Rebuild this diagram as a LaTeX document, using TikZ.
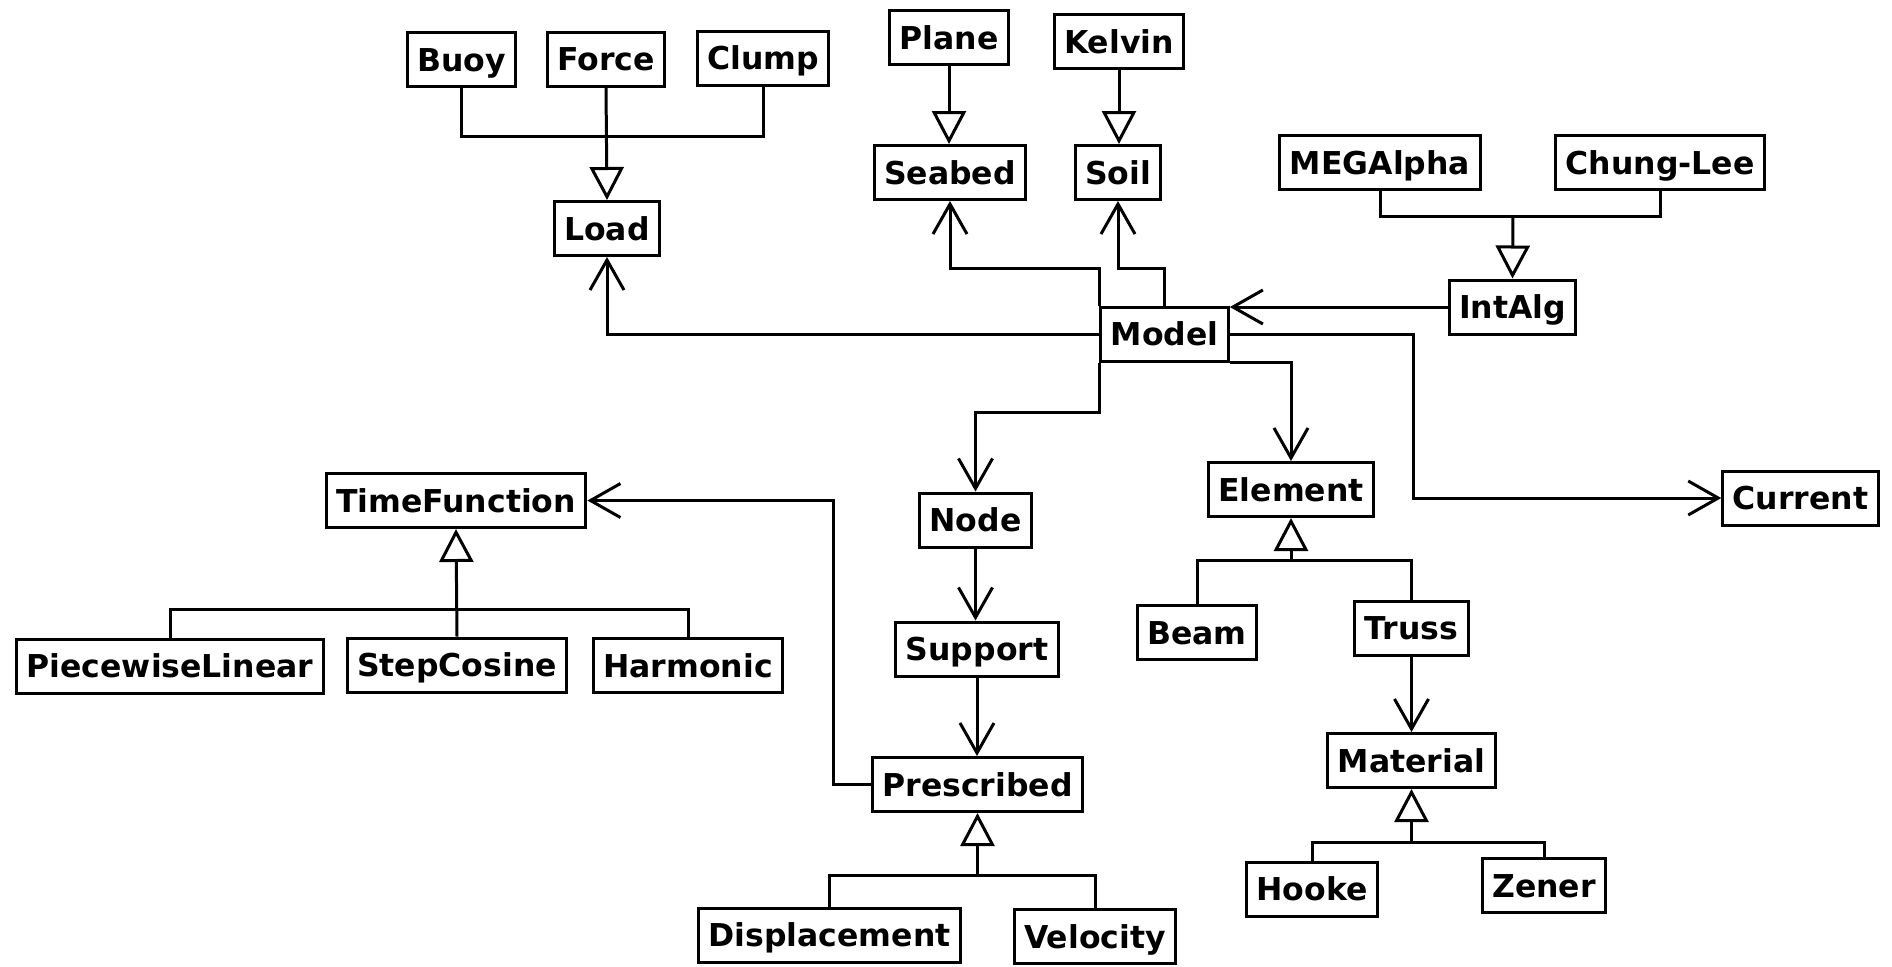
\documentclass[tikz,border=0pt]{standalone}
\usepackage{fontspec}
\setmainfont{DejaVu Sans}
\usetikzlibrary{arrows.meta}
\tikzset{
class/.style={ % Sets the properties for each class box
draw,
line width=1.5pt,
fill=white,
font=\bfseries\fontsize{15.75}{18}\selectfont,
inner xsep=5pt, inner ysep=0pt,
minimum height=27pt,
text height=11.5pt, text depth=0pt},
link/.style={draw, line width=1.5pt}, % Plain connector lines
uses/.style={link, % Association with an open barb
-{Straight Barb[length=15pt, width=17pt, line width=1.5pt]}},
inherit/.style={link, % Generalization with a hollow triangle
-{Triangle[open, length=16.5pt, width=17pt, line width=1.5pt]}}}

\begin{document}
\begin{tikzpicture}[x=0.5pt, y=-0.5pt]
	\useasboundingbox (0,0) rectangle (1892,966);
	\node[class] (buoy) at (461.5,59.5) {Buoy};
	\node[class] (force) at (606,59) {Force};
	\node[class] (clump) at (763,58) {Clump};
	\node[class] (load) at (607,228.5) {Load};
	\node[class] (plane) at (949,37.5) {Plane};
	\node[class] (kelvin) at (1119,41.5) {Kelvin};
	\node[class] (seabed) at (950,172.5) {Seabed};
	\node[class] (soil) at (1118,172.5) {Soil};
	\node[class] (megalpha) at (1380,162.5) {MEGAlpha};
	\node[class] (chunglee) at (1660,162.5) {Chung-Lee};
	\node[class] (intalg) at (1512.5,307) {IntAlg};
	\node[class] (model) at (1164.5,334) {Model};
	\node[class] (timefn) at (456,500.5) {TimeFunction};
	\node[class] (pnode) at (975.5,520) {Node};
	\node[class] (element) at (1291,489.5) {Element};
	\node[class] (current) at (1800.5,498) {Current};
	\node[class] (piecewise) at (170,666) {PiecewiseLinear};
	\node[class] (stepcos) at (457,665) {StepCosine};
	\node[class] (harmonic) at (688,665.5) {Harmonic};
	\node[class] (support) at (977,649) {Support};
	\node[class] (beam) at (1197,632.5) {Beam};
	\node[class] (truss) at (1411.5,628) {Truss};
	\node[class] (material) at (1411.5,760.5) {Material};
	\node[class] (prescribed) at (977.5,784.5) {Prescribed};
	\node[class] (hooke) at (1312,889) {Hooke};
	\node[class] (zener) at (1544,885.5) {Zener};
	\node[class] (displacement) at (829.5,935) {Displacement};
	\node[class] (velocity) at (1095,936.5) {Velocity};
	% joints of the subclass trees
	\coordinate (loadbus) at (607,136);
	\coordinate (algbus) at (1513,216);
	\coordinate (timebus) at (457,609);
	\coordinate (elembus) at (1291,560);
	\coordinate (matbus) at (1411.5,842);
	\coordinate (presbus) at (977.5,875);
	% generalizations
	\draw[link] (buoy.south) |- (loadbus) -| (clump.south);
	\draw[inherit] (force.south) -- (load.north);
	\draw[inherit] (plane.south) -- (plane.south |- seabed.north);
	\draw[inherit] (kelvin.south) -- (kelvin.south |- soil.north);
	\draw[link] (megalpha.south) |- (algbus) -| (chunglee.south);
	\draw[inherit] (algbus) -- (intalg.north);
	\draw[link] (piecewise.north) |- (timebus) -| (harmonic.north);
	\draw[inherit] (stepcos.north) -- (timefn.south);
	\draw[link] (beam.north) |- (elembus) -| (truss.north);
	\draw[inherit] (elembus) -- (element.south);
	\draw[link] (hooke.north) |- (matbus) -| (zener.north);
	\draw[inherit] (matbus) -- (material.south);
	\draw[link] (displacement.north) |- (presbus) -| (velocity.north);
	\draw[inherit] (presbus) -- (prescribed.south);
	% associations
	\draw[uses] (model.west) -| (load.south);
	\draw[uses] (model.north west) -- ++(0,-37) -| (seabed.south);
	\draw[uses] (model.north) -- ++(0,-37) -| (soil.south);
	\draw[uses] (intalg.west) -- (intalg.west -| model.east);
	\draw[uses] (model.east) -- ++(184,0) |- (current.west);
	\draw[uses] (model.south east) -| (element.north);
	\draw[uses] (model.south west) -- ++(0,50) -| (pnode.north);
	\draw[uses] (pnode.south) -- (pnode.south |- support.north);
	\draw[uses] (support.south) -- (support.south |- prescribed.north);
	\draw[uses] (prescribed.west) -- ++(-37,0) |- (timefn.east);
	\draw[uses] (truss.south) -- (material.north);
\end{tikzpicture}
\end{document}
